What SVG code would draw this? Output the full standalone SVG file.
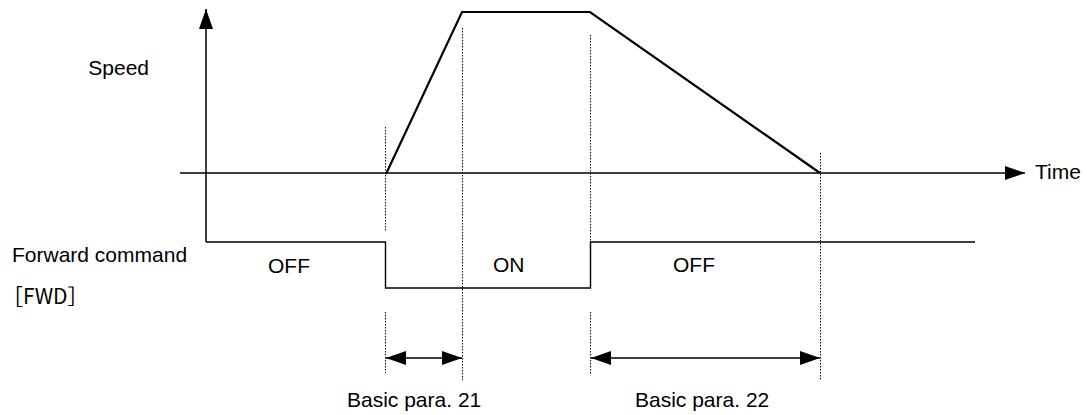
<svg xmlns="http://www.w3.org/2000/svg" width="1087" height="415" viewBox="0 0 1087 415">
<defs>
<style>
.t{font-family:"Liberation Sans",Arial,sans-serif;font-size:21px;fill:#000}
.jp{font-family:"Noto Sans CJK JP","Liberation Sans",sans-serif;font-size:21px;fill:#000}
.ax{stroke:#000;stroke-width:1.5;fill:none}
.cv{stroke:#000;stroke-width:2.2;fill:none;stroke-linejoin:miter}
.sig{stroke:#000;stroke-width:1.4;fill:none}
.dot{stroke:#000;stroke-width:1;stroke-dasharray:1.5,1.5;fill:none}
.dim{stroke:#000;stroke-width:1.4;fill:none}
</style>
<marker id="ah" viewBox="0 0 20 14" refX="20" refY="7" markerWidth="20" markerHeight="14" markerUnits="userSpaceOnUse" orient="auto-start-reverse">
<path d="M0,0 L20,7 L0,14 Z" fill="#000"/>
</marker>
</defs>
<rect width="1087" height="415" fill="#fff"/>
<g id="guides">
<line class="dot" x1="385.5" y1="127" x2="385.5" y2="231"/>
<line class="dot" x1="385.5" y1="312" x2="385.5" y2="373"/>
<line class="dot" x1="462.5" y1="28" x2="462.5" y2="380"/>
<line class="dot" x1="590.5" y1="35" x2="590.5" y2="242"/>
<line class="dot" x1="590.5" y1="312" x2="590.5" y2="374"/>
<line class="dot" x1="820.5" y1="153" x2="820.5" y2="381"/>
</g>
<g id="axes">
<line class="ax" x1="206" y1="242" x2="206" y2="9" marker-end="url(#ah)"/>
<line class="ax" x1="180" y1="173" x2="1025" y2="173" marker-end="url(#ah)"/>
</g>
<g id="speed-curve">
<polyline class="cv" points="386,174 462,12 590,12 820,173"/>
</g>
<g id="fwd-signal">
<polyline class="sig" points="206,242 385.5,242 385.5,288 590.5,288 590.5,242 975,242"/>
</g>
<g id="connectors">
<line class="dim" x1="386" y1="358" x2="462" y2="358" marker-start="url(#ah)" marker-end="url(#ah)"/>
<line class="dim" x1="591" y1="358" x2="820" y2="358" marker-start="url(#ah)" marker-end="url(#ah)"/>
</g>
<g id="labels">
<text class="t" x="149" y="75" text-anchor="end">Speed</text>
<text class="t" x="1035" y="179">Time</text>
<text class="t" x="12" y="262">Forward command</text>
<text class="jp" x="2" y="304">［FWD］</text>
<text class="t" x="268" y="273">OFF</text>
<text class="t" x="493" y="272">ON</text>
<text class="t" x="673" y="272">OFF</text>
<text class="t" x="347" y="407">Basic para. 21</text>
<text class="t" x="635" y="407">Basic para. 22</text>
</g>
</svg>
